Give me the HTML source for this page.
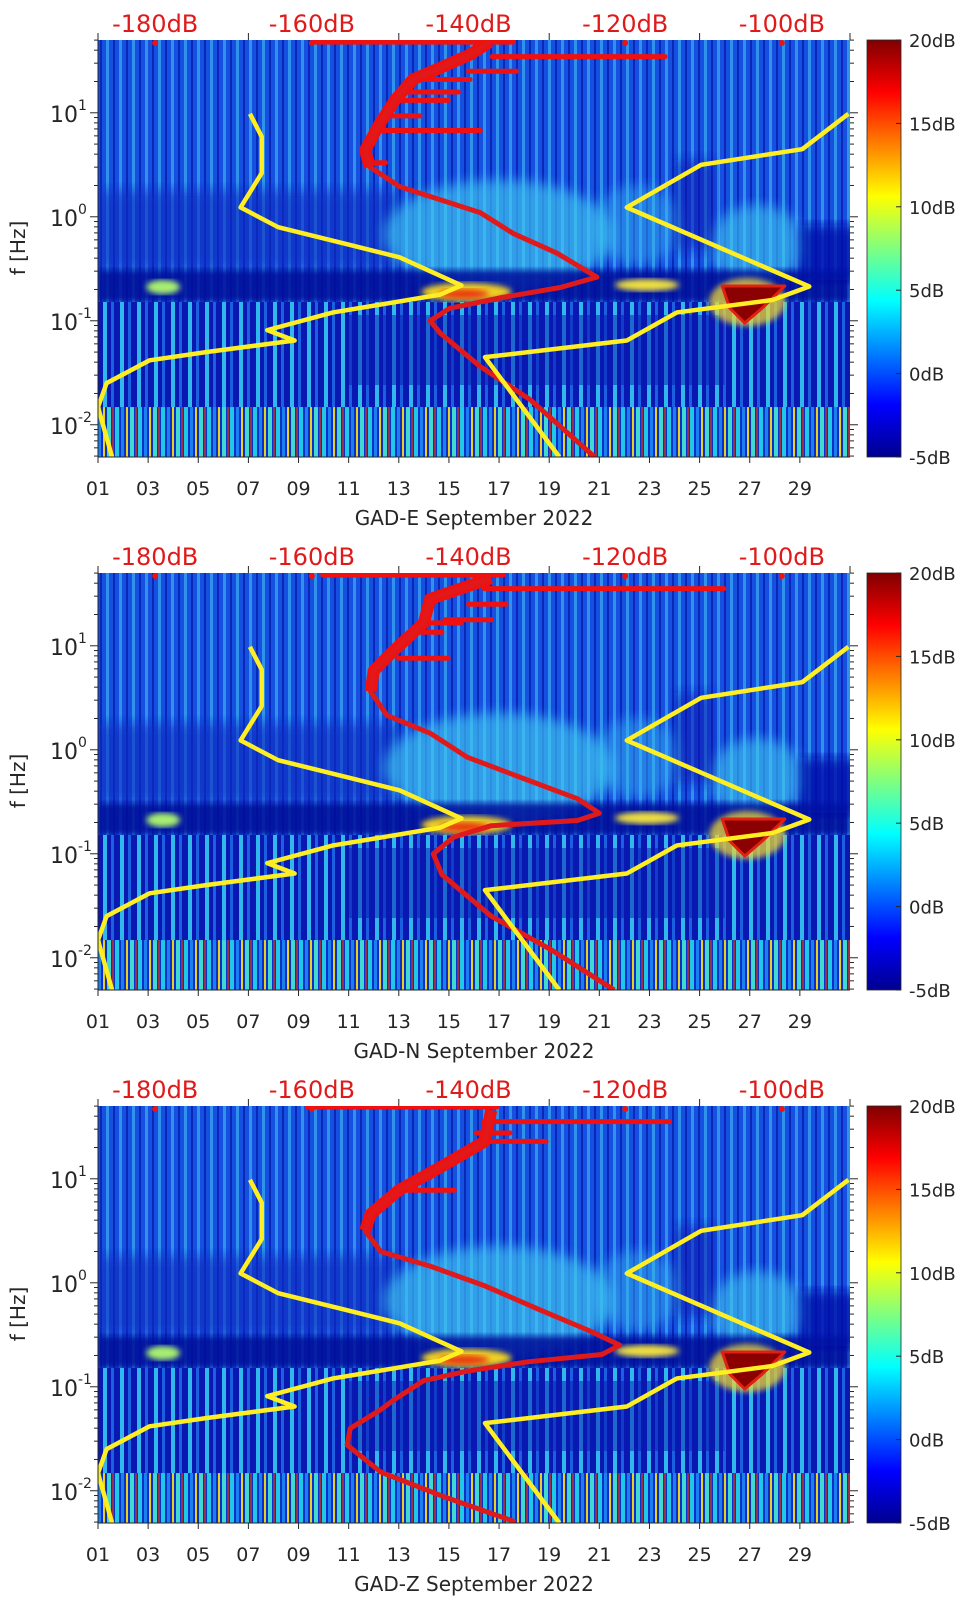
<!DOCTYPE html>
<html><head><meta charset="utf-8"><style>
html,body{margin:0;padding:0;background:#fff;}
svg{display:block;font-family:"DejaVu Sans","Liberation Sans",sans-serif;}
</style></head><body>
<svg id="fig" width="962" height="1599" viewBox="0 0 962 1599" xmlns="http://www.w3.org/2000/svg">
<defs>
<linearGradient id="jet" x1="0" y1="1" x2="0" y2="0">
<stop offset="0" stop-color="#00008f"/><stop offset="0.125" stop-color="#0000ff"/>
<stop offset="0.375" stop-color="#00ffff"/><stop offset="0.625" stop-color="#ffff00"/>
<stop offset="0.875" stop-color="#ff0000"/><stop offset="1" stop-color="#800000"/>
</linearGradient>
<pattern id="streakA" width="13" height="20" patternUnits="userSpaceOnUse">
<rect width="13" height="20" fill="#1550e0"/><rect x="2" width="3" height="20" fill="#3aa8f0" opacity="0.75"/><rect x="9" width="2" height="20" fill="#0a28b8"/>
</pattern>
<pattern id="streakD" width="17" height="20" patternUnits="userSpaceOnUse">
<rect width="17" height="20" fill="#0818b0"/><rect x="1" width="4" height="20" fill="#30b8ec"/><rect x="9" width="3" height="20" fill="#1a60e0"/>
</pattern>
<pattern id="streakE" width="23" height="20" patternUnits="userSpaceOnUse">
<rect width="23" height="20" fill="#0a30c8"/><rect x="0" width="4" height="20" fill="#20c8e8"/><rect x="6" width="3" height="20" fill="#1a80f0"/><rect x="11" width="2" height="20" fill="#e8d020"/><rect x="15" width="4" height="20" fill="#40d8d0"/><rect x="20" width="2" height="20" fill="#d83010" opacity="0.7"/>
</pattern>
<filter id="blur6"><feGaussianBlur stdDeviation="6"/></filter>
<filter id="blur3"><feGaussianBlur stdDeviation="3"/></filter>
</defs>
</svg>
<script>
// ---- data ----
const panelNames = ["GAD-E", "GAD-N", "GAD-Z"];
const dayTicks = [1,3,5,7,9,11,13,15,17,19,21,23,25,27,29];
const dayTickLabels = ["01","03","05","07","09","11","13","15","17","19","21","23","25","27","29"];
const topTickDays = [1,7,13,19,25,31];
const dbTickValues = [-180,-160,-140,-120,-100];
const dbTickLabels = ["-180dB","-160dB","-140dB","-120dB","-100dB"];
const yDecades = [1,0,-1,-2];
const cbTicks = [20,15,10,5,0,-5];
const cbTickLabels = ["20dB","15dB","10dB","5dB","0dB","-5dB"];

// low-noise model (yellow, left)
const nlnmDb = [-167.9,-166.4,-166.4,-169.1,-164.3,-155.2,-148.8,-140.9,-143.7,-157.3,-165.7,-162.2,-173.4,-180.7,-186.2,-187.3,-185.5];
const nlnmLogF = [0.99,0.77,0.42,0.09,-0.10,-0.27,-0.39,-0.66,-0.75,-0.92,-1.09,-1.19,-1.30,-1.38,-1.60,-1.83,-2.31];
// high-noise model (yellow, right)
const nhnmDb = [-91.5,-97.4,-110.3,-119.8,-96.5,-101.2,-113.4,-119.8,-137.9,-128.4];
const nhnmLogF = [0.99,0.65,0.50,0.09,-0.67,-0.80,-0.92,-1.19,-1.35,-2.31];

// station median PSD (red), per panel
const redEDb = [-137.3,-139.8,-143.7,-147.1,-149.4,-151.3,-153.2,-152.6,-148.8,-138.5,-134.3,-128.7,-123.6,-128.3,-136.0,-142.4,-144.9,-143.6,-138.5,-132.1,-123.9];
const redELogF = [1.68,1.56,1.43,1.32,1.12,0.90,0.64,0.48,0.29,0.04,-0.16,-0.35,-0.58,-0.68,-0.78,-0.88,-1.00,-1.12,-1.44,-1.76,-2.31];
const redNDb = [-137.1,-144.9,-145.7,-149.6,-152.1,-152.5,-150.4,-144.9,-140.2,-133.2,-126.1,-123.3,-126.1,-137.1,-141.9,-144.5,-143.4,-137.1,-129.3,-121.4];
const redNLogF = [1.65,1.45,1.22,0.95,0.76,0.56,0.33,0.16,-0.07,-0.27,-0.47,-0.61,-0.68,-0.73,-0.84,-1.00,-1.20,-1.60,-1.93,-2.31];
const redZDb = [-137.1,-137.9,-143.4,-148.9,-152.5,-153.2,-151.2,-144.9,-137.9,-130.9,-124.6,-120.7,-123.0,-132.4,-140.2,-145.7,-149.6,-151.2,-155.1,-155.5,-151.2,-143.4,-134.0];
const redZLogF = [1.66,1.36,1.12,0.89,0.66,0.50,0.30,0.16,-0.03,-0.26,-0.46,-0.60,-0.69,-0.76,-0.85,-0.94,-1.13,-1.22,-1.40,-1.56,-1.82,-2.05,-2.30];

// horizontal spikes of red curve: log f, dB from, dB to
const spikeELogF = [1.68,1.54,1.40,1.32,1.20,1.12,0.97,0.83,0.52];
const spikeEFrom = [-159.6,-137,-140,-147,-148,-149,-151,-152,-152.6];
const spikeETo = [-134.3,-114.9,-133.9,-139.8,-141.3,-142.6,-146.2,-138.5,-150.6];
const spikeNLogF = [1.68,1.55,1.40,1.25,1.22,1.13,0.88];
const spikeNFrom = [-158.6,-138,-140,-143,-145,-146,-149];
const spikeNTo = [-135.6,-107.4,-135.2,-137.1,-141.0,-143.4,-142.6];
const spikeZLogF = [1.69,1.55,1.44,1.36,1.01,0.89];
const spikeZFrom = [-160.6,-138,-139,-138,-147,-149];
const spikeZTo = [-136.4,-114.4,-134.7,-130.1,-144.9,-141.8];

const redDbSets = [redEDb, redNDb, redZDb];
const redLogFSets = [redELogF, redNLogF, redZLogF];
const spikeLogFSets = [spikeELogF, spikeNLogF, spikeZLogF];
const spikeFromSets = [spikeEFrom, spikeNFrom, spikeZFrom];
const spikeToSets = [spikeETo, spikeNTo, spikeZTo];

// ---- layout ----
const NS = "http://www.w3.org/2000/svg";
const svg = document.getElementById("fig");
const PL = 98, PR = 850, PH = 417, PITCH = 533, TOP0 = 40;
const LF_TOP = 1.70, LF_BOT = -2.31;
const DB_MIN = -187.3, DB_MAX = -91.3;
const xDay = d => PL + (d - 1) * (PR - PL) / 30;
const xDb = v => PL + (v - DB_MIN) * (PR - PL) / (DB_MAX - DB_MIN);
const yLf = (lf, T) => T + (LF_TOP - lf) * PH / (LF_TOP - LF_BOT);
const CBX = 867, CBW = 34;
const yCb = (v, T) => T + (20 - v) * PH / 25;

function mk(tag, attrs, parent) {
  const e = document.createElementNS(NS, tag);
  for (const k in attrs) e.setAttribute(k, attrs[k]);
  (parent || svg).appendChild(e);
  return e;
}

for (let p = 0; p < 3; p++) {
  const T = TOP0 + p * PITCH;
  const g = mk("g", {});
  
  
  const clipId = "clip" + p;
  const cp = mk("clipPath", {id: clipId}, g);
  mk("rect", {x: PL, y: T, width: PR - PL, height: PH}, cp);

  // spectrogram background (texture approximation)
  const bg = mk("g", {"clip-path": "url(#" + clipId + ")"}, g);
  
  
  mk("rect", {x: PL, y: T, width: PR - PL, height: PH, fill: "url(#streakA)"}, bg);
  mk("rect", {x: PL, y: T + 150, width: xDay(13) - PL, height: 80, fill: "#0a2cc0", opacity: 0.6, filter: "url(#blur6)"}, bg);
  mk("ellipse", {cx: xDay(17), cy: T + 195, rx: 115, ry: 55, fill: "#40c8f0", opacity: 0.65, filter: "url(#blur6)"}, bg);
  mk("ellipse", {cx: xDay(22.5), cy: T + 185, rx: 45, ry: 40, fill: "#38b8f0", opacity: 0.45, filter: "url(#blur6)"}, bg);
  mk("ellipse", {cx: xDay(27.3), cy: T + 205, rx: 48, ry: 40, fill: "#40c8f0", opacity: 0.6, filter: "url(#blur6)"}, bg);
  mk("rect", {x: xDay(24), y: T + 120, width: 40, height: 90, fill: "#0818b0", opacity: 0.55, filter: "url(#blur6)"}, bg);
  mk("rect", {x: PL, y: T + 230, width: PR - PL, height: 32, fill: "#000c98", opacity: 0.85, filter: "url(#blur3)"}, bg);
  mk("rect", {x: xDay(29), y: T + 185, width: 60, height: 55, fill: "#0010a8", opacity: 0.8, filter: "url(#blur6)"}, bg);
  mk("rect", {x: PL, y: T + 262, width: PR - PL, height: yLf(-1.83, T) - (T + 262), fill: "url(#streakD)"}, bg);
  mk("rect", {x: xDay(11), y: T + 275, width: xDay(26) - xDay(11), height: 70, fill: "#0818b0", opacity: 0.5}, bg);
  mk("rect", {x: PL, y: yLf(-1.83, T), width: PR - PL, height: T + PH - yLf(-1.83, T), fill: "url(#streakE)"}, bg);
  // hot spots
  mk("ellipse", {cx: xDay(3.6), cy: T + 247, rx: 17, ry: 7, fill: "#a8f070", filter: "url(#blur3)"}, bg);
  mk("ellipse", {cx: xDay(15.7), cy: T + 252, rx: 45, ry: 9, fill: "#f0d020", filter: "url(#blur3)"}, bg);
  mk("ellipse", {cx: xDay(15.6), cy: T + 254, rx: 25, ry: 5, fill: "#e83a10", filter: "url(#blur3)"}, bg);
  mk("ellipse", {cx: xDay(22.9), cy: T + 245, rx: 32, ry: 6, fill: "#f0e040", filter: "url(#blur3)"}, bg);
  mk("ellipse", {cx: xDay(26.9), cy: T + 262, rx: 38, ry: 24, fill: "#f0d830", opacity: 0.75, filter: "url(#blur3)"}, bg);
  mk("polygon", {points: `${xDay(25.9)},${T+246} ${xDay(28.4)},${T+246} ${xDay(27.5)},${T+268} ${xDay(26.8)},${T+283} ${xDay(26.2)},${T+268}`, fill: "#8b0000", stroke: "#e02010", "stroke-width": 3, "stroke-linejoin": "round"}, bg);

  // red curve spikes and curve
  const rg = mk("g", {"clip-path": "url(#" + clipId + ")"}, g);
  const sLf = spikeLogFSets[p], sF = spikeFromSets[p], sT = spikeToSets[p];
  for (let i = 0; i < sLf.length; i++) {
    const s = mk("line", {x1: xDb(sF[i]), x2: xDb(sT[i]), y1: yLf(sLf[i], T), y2: yLf(sLf[i], T), stroke: "#f01010", "stroke-width": 5, "stroke-linecap": "round"}, rg);
    
    
  }
  const rDb = redDbSets[p], rLf = redLogFSets[p];
  const ptsUpper = [], ptsAll = [];
  for (let i = 0; i < rDb.length; i++) {
    const pt = xDb(rDb[i]) + "," + yLf(rLf[i], T);
    ptsAll.push(pt);
    if (rLf[i] > 0.35) ptsUpper.push(pt);
  }
  const ru = mk("polyline", {points: ptsUpper.join(" "), fill: "none", stroke: "#f01010", "stroke-width": 12, "stroke-linejoin": "round"}, rg);
  
  
  const rl = mk("polyline", {points: ptsAll.join(" "), fill: "none", stroke: "#e01a1a", "stroke-width": 5, "stroke-linejoin": "round"}, rg);
  
  

  // yellow model curves
  const yl = [], yh = [];
  for (let i = 0; i < nlnmDb.length; i++) yl.push(xDb(nlnmDb[i]) + "," + yLf(nlnmLogF[i], T));
  for (let i = 0; i < nhnmDb.length; i++) yh.push(xDb(nhnmDb[i]) + "," + yLf(nhnmLogF[i], T));
  const l1 = mk("polyline", {points: yl.join(" "), fill: "none", stroke: "#ffee22", "stroke-width": 4.5, "stroke-linejoin": "round"}, rg);
  
  
  const l2 = mk("polyline", {points: yh.join(" "), fill: "none", stroke: "#ffee22", "stroke-width": 4.5, "stroke-linejoin": "round"}, rg);
  
  

  // red dots at top
  for (let i = 0; i < dbTickValues.length; i++) {
    if (i === 2) continue;
    const c = mk("circle", {cx: xDb(dbTickValues[i]), cy: T + 3, r: 3, fill: "#f01010"}, g);
    
    
  }

  // axes frame lines
  mk("line", {x1: PL, x2: PL, y1: T, y2: T + PH, stroke: "#262626", "stroke-width": 1}, g);
  mk("line", {x1: PL, x2: PR, y1: T + PH, y2: T + PH, stroke: "#262626", "stroke-width": 1}, g);

  // x ticks and labels
  for (let i = 0; i < dayTicks.length; i++) {
    const x = xDay(dayTicks[i]);
    mk("line", {x1: x, x2: x, y1: T + PH, y2: T + PH + 6, stroke: "#262626"}, g);
    const t = mk("text", {x: x, y: T + PH + 38, "text-anchor": "middle", "font-size": 19, fill: "#262626"}, g);
    t.textContent = dayTickLabels[i];
    
    
  }
  for (const d of topTickDays) {
    const x = xDay(d);
    mk("line", {x1: x, x2: x, y1: T - 7, y2: T, stroke: "#262626"}, g);
  }
  const xl = mk("text", {x: 474, y: T + PH + 68, "text-anchor": "middle", "font-size": 20, fill: "#262626"}, g);
  xl.textContent = panelNames[p] + " September 2022";
  
  

  // top dB labels
  for (let i = 0; i < dbTickValues.length; i++) {
    const t = mk("text", {x: xDb(dbTickValues[i]), y: T - 8, "text-anchor": "middle", "font-size": 24, fill: "#e01a1a"}, g);
    t.textContent = dbTickLabels[i];
    
    
  }

  // y ticks (major + minor), left and right
  for (let dcd = -3; dcd <= 1; dcd++) {
    for (let m = 1; m <= 9; m++) {
      const lf = dcd + Math.log10(m);
      if (lf > LF_TOP || lf < LF_BOT) continue;
      const y = yLf(lf, T);
      const len = m === 1 ? 8 : 4;
      mk("line", {x1: PL - len, x2: PL, y1: y, y2: y, stroke: "#262626"}, g);
      mk("line", {x1: PR, x2: PR + len, y1: y, y2: y, stroke: "#262626"}, g);
    }
  }
  for (const dcd of yDecades) {
    const y = yLf(dcd, T);
    const t = mk("text", {x: 78, y: y + 9, "text-anchor": "end", "font-size": 22, fill: "#262626"}, g);
    t.textContent = "10";
    
    
    const e = mk("text", {x: 78, y: y - 3, "text-anchor": "start", "font-size": 14, fill: "#262626"}, g);
    e.textContent = String(dcd);
  }
  const yt = mk("text", {x: 0, y: 0, "text-anchor": "middle", "font-size": 20, fill: "#262626", transform: `translate(25,${T + 208}) rotate(-90)`}, g);
  yt.textContent = "f [Hz]";
  
  

  // colorbar
  const cb = mk("rect", {x: CBX, y: T, width: CBW, height: PH, fill: "url(#jet)", stroke: "#262626", "stroke-width": 0.8}, g);
  
  
  for (let i = 0; i < cbTicks.length; i++) {
    const y = yCb(cbTicks[i], T);
    mk("line", {x1: CBX + CBW - 5, x2: CBX + CBW, y1: y, y2: y, stroke: "#262626"}, g);
    const t = mk("text", {x: CBX + CBW + 8, y: y + 7, "font-size": 18, fill: "#262626"}, g);
    t.textContent = cbTickLabels[i];
    
    
  }
}
</script>
</body></html>
